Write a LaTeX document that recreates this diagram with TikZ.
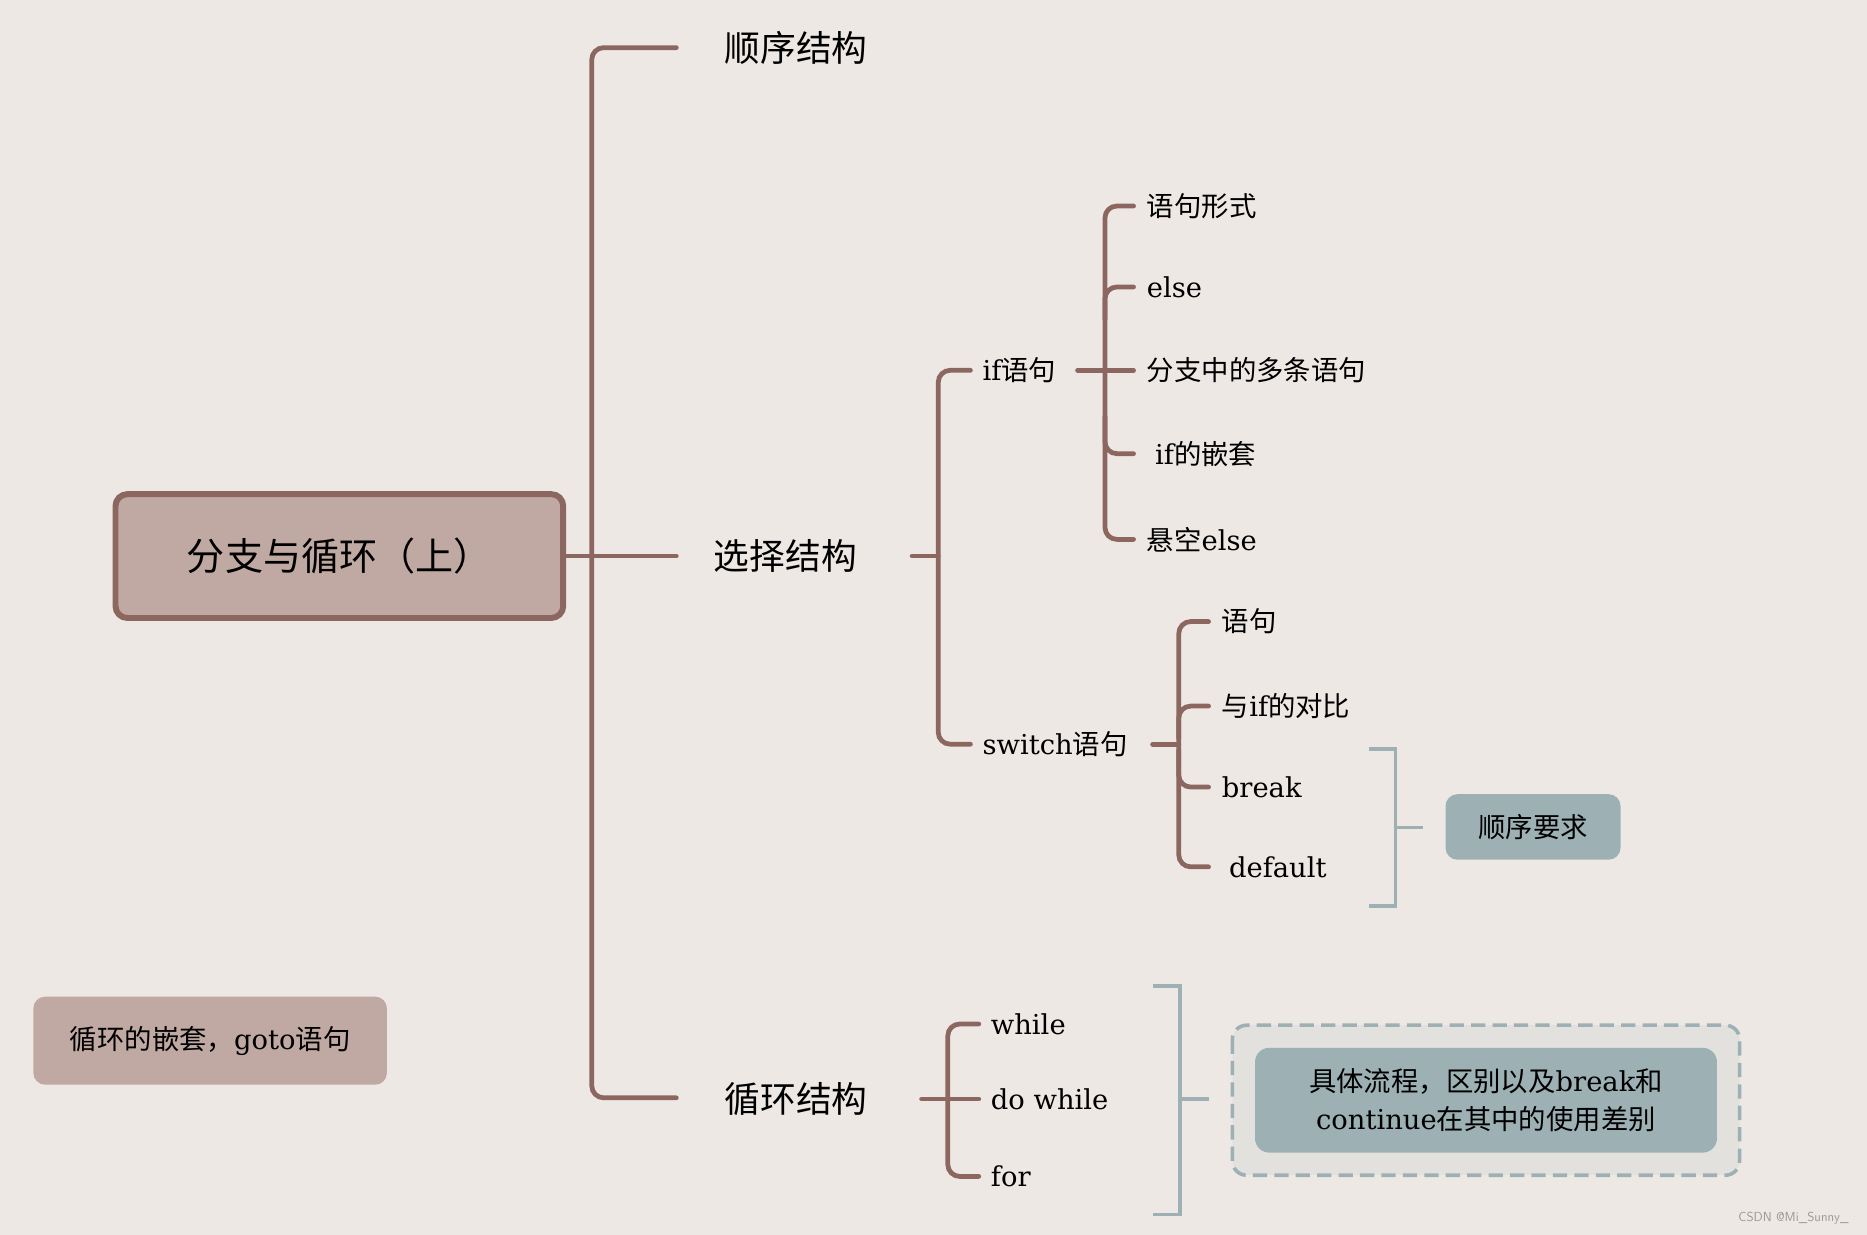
\documentclass[tikz,border=0pt]{standalone}
\usepackage{fontspec}
\setmainfont{DejaVu Serif}
\newfontfamily\cjk{Noto Sans CJK SC}
\definecolor{bg}{HTML}{EEE8E5}
\definecolor{br}{HTML}{8B6760}
\definecolor{rootf}{HTML}{C0A9A2}
\definecolor{gb}{HTML}{9DB1B5}
\definecolor{dbox}{HTML}{E2E1DE}
\begin{document}
\begin{tikzpicture}[x=1pt,y=-1pt,
  ln/.style={draw=br,line width=4,rounded corners=10,line cap=round},
  gl/.style={draw=gb,line width=3},
  big/.style={anchor=west,font=\cjk\fontsize{30}{34}\selectfont,text=black},
  sm/.style={anchor=west,font=\fontsize{23}{28}\selectfont,text=black,inner sep=0}]
\useasboundingbox (0,0) rectangle (1568,1037);
\fill[bg] (0,0) rectangle (1568,1037);
% root
\node[draw=br,fill=rootf,line width=5,rounded corners=10,minimum width=376,minimum height=104,font=\cjk\fontsize{32}{36}\selectfont] (root) at (285,467) {分支与循环（上）};
\node[fill=rootf,rounded corners=10,minimum width=297,minimum height=74,font=\fontsize{23}{28}\selectfont] (nest) at (176.5,874) {{\cjk 循环的嵌套，}goto{\cjk 语句}};
% level 1
\node[big] (seq) at (605,40) {顺序结构};
\node[big] (sel) at (596,467) {选择结构};
\node[big] (loop) at (605,923) {循环结构};
\draw[ln] (568,40) -- (497,40) -- (497,922) -- (568,922);
\draw[ln] (root.east) -- (568,467);
% selection
\node[sm] (if) at (825,311) {if{\cjk 语句}};
\node[sm] (sw) at (825,625) {switch{\cjk 语句}};
\draw[ln] (766,467) -- (788,467);
\draw[ln] (815,311) -- (788,311) -- (788,625) -- (815,625);
% if children
\node[sm] (i1) at (963,173) {\cjk 语句形式};
\node[sm] (i2) at (963,241) {else};
\node[sm] (i3) at (963,311) {\cjk 分支中的多条语句};
\node[sm] (i4) at (970,381) {if{\cjk 的嵌套}};
\node[sm] (i5) at (963,453) {{\cjk 悬空}else};
\draw[ln] (905,311) -- (952,311);
\draw[ln] (952,173) -- (928,173) -- (928,453) -- (952,453);
\draw[ln] (952,241) -- (928,241) -- (928,268);
\draw[ln] (952,381) -- (928,381) -- (928,350);
% switch children
\node[sm] (s1) at (1026,522) {\cjk 语句};
\node[sm] (s2) at (1026,593) {{\cjk 与}if{\cjk 的对比}};
\node[sm] (s3) at (1026,661) {break};
\node[sm] (s4) at (1032,728) {default};
\draw[ln] (968,625) -- (990,625);
\draw[ln] (1015,522) -- (990,522) -- (990,728) -- (1015,728);
\draw[ln] (1015,593) -- (990,593) -- (990,620);
\draw[ln] (1015,661) -- (990,661) -- (990,630);
\draw[gl] (1150,629) -- (1172,629) -- (1172,761) -- (1150,761);
\draw[gl] (1172,695) -- (1195,695);
\node[fill=gb,rounded corners=10,minimum width=147,minimum height=55,font=\cjk\fontsize{23}{28}\selectfont] (req) at (1287.5,694.5) {顺序要求};
% loop children
\node[sm] (l1) at (832,860) {while};
\node[sm] (l2) at (832,923) {do while};
\node[sm] (l3) at (832,988) {for};
\draw[ln] (774,923) -- (822,923);
\draw[ln] (822,860) -- (796,860) -- (796,988) -- (822,988);
\draw[gl] (968,828) -- (991,828) -- (991,1020) -- (968,1020);
\draw[gl] (991,923) -- (1015,923);
\draw[draw=gb,fill=dbox,line width=3,dashed,dash pattern=on 12 off 6,rounded corners=12] (1035,861) rectangle (1461,987);
\node[fill=gb,rounded corners=12,minimum width=388,minimum height=88,align=center,font=\fontsize{23}{32}\selectfont] (flow) at (1248,924) {{\cjk 具体流程，区别以及}break{\cjk 和}\\continue{\cjk 在其中的使用差别}};
\node[anchor=east,font=\sffamily\fontsize{11}{12}\selectfont,text=gray!80] (wm) at (1556,1023) {CSDN @Mi\_Sunny\_};
\end{tikzpicture}
\end{document}
